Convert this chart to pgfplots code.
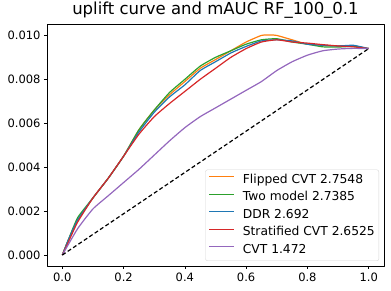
\documentclass[border=0pt]{standalone}
\usepackage{pgfplots}
\pgfplotsset{compat=1.18}
\usepackage{fontspec}
\setmainfont{DejaVu Sans}
\setsansfont{DejaVu Sans}
\definecolor{c0}{HTML}{1F77B4}
\definecolor{c1}{HTML}{FF7F0E}
\definecolor{c2}{HTML}{2CA02C}
\definecolor{c3}{HTML}{D62728}
\definecolor{c4}{HTML}{9467BD}
\definecolor{legframe}{HTML}{D6D6D6}
\begin{document}
\begin{tikzpicture}
\path[use as bounding box] (-47pt,-25pt) rectangle (344pt,266pt);
\begin{axis}[
  at={(0,0)}, anchor=south west,
  scale only axis, width=337pt, height=242pt,
  xmin=-0.05, xmax=1.05, ymin=-0.0005, ymax=0.01052,
  xtick={0,0.2,0.4,0.6,0.8,1.0},
  ytick={0,0.002,0.004,0.006,0.008,0.010},
  scaled y ticks=false,
  xticklabel style={/pgf/number format/.cd, fixed, fixed zerofill, precision=1},
  yticklabel style={/pgf/number format/.cd, fixed, fixed zerofill, precision=3},
  /pgf/number format/assume math mode=true,
  tick label style={font=\fontsize{11.5}{13}\selectfont},
  tick align=outside, tick pos=left,
  major tick length=3pt,
  axis line style={line width=0.7pt},
  every tick/.style={line width=0.7pt, black},
  title={uplift curve and mAUC RF\_100\_0.1},
  title style={font=\fontsize{16.5}{19}\selectfont, yshift=-4pt},
  legend cell align=left,
  legend style={at={(1,0)}, anchor=south east, xshift=-5pt, yshift=5pt,
    font=\fontsize{12.3}{14}\selectfont, draw=legframe, rounded corners=2pt,
    inner xsep=3pt, inner ysep=3.5pt, column sep=7pt, row sep=3.5pt,
    nodes={inner sep=1pt, text height=9pt, text depth=3pt}},
  line join=round,
  every axis plot/.append style={line width=1.2pt},
]
\addplot[c1, smooth, tension=0.3, legend image code/.code={\draw[draw=c1, line width=1.3pt, rounded corners=0pt] (0pt,3.5pt) -- (25pt,3.5pt);}] coordinates {
(0,0) (0.02,0.0007) (0.05,0.0016) (0.1,0.0026) (0.15,0.0035) (0.2,0.0045) (0.25,0.0057) (0.3,0.0066) (0.35,0.0073) (0.4,0.0079) (0.45,0.0085) (0.5,0.0089) (0.55,0.0093) (0.6,0.0097) (0.65,0.0100) (0.68,0.01002) (0.7,0.0100) (0.75,0.0098) (0.8,0.0096) (0.85,0.00955) (0.9,0.00952) (0.95,0.00952) (1.0,0.0094)};
\addlegendentry{Flipped CVT 2.7548}
\addplot[c2, smooth, tension=0.3, legend image code/.code={\draw[draw=c2, line width=1.3pt, rounded corners=0pt] (0pt,3.5pt) -- (25pt,3.5pt);}] coordinates {
(0,0) (0.02,0.0007) (0.05,0.0017) (0.1,0.0026) (0.15,0.0035) (0.2,0.0045) (0.25,0.0057) (0.3,0.0066) (0.35,0.0074) (0.4,0.0080) (0.45,0.0086) (0.5,0.0090) (0.55,0.0093) (0.6,0.0096) (0.65,0.0098) (0.7,0.00985) (0.75,0.0097) (0.8,0.0096) (0.85,0.00948) (0.9,0.00947) (0.95,0.0095) (1.0,0.0094)};
\addlegendentry{Two model 2.7385}
\addplot[c0, smooth, tension=0.3, legend image code/.code={\draw[draw=c0, line width=1.3pt, rounded corners=0pt] (0pt,3.5pt) -- (25pt,3.5pt);}] coordinates {
(0,0) (0.02,0.0007) (0.05,0.0016) (0.1,0.0026) (0.15,0.0035) (0.2,0.0045) (0.25,0.0056) (0.3,0.0065) (0.35,0.0072) (0.4,0.00775) (0.45,0.0084) (0.5,0.0088) (0.55,0.0092) (0.6,0.0095) (0.65,0.00975) (0.7,0.0098) (0.75,0.00975) (0.8,0.0096) (0.85,0.00955) (0.9,0.00952) (0.95,0.00955) (1.0,0.0094)};
\addlegendentry{DDR 2.692}
\addplot[c3, smooth, tension=0.3, legend image code/.code={\draw[draw=c3, line width=1.3pt, rounded corners=0pt] (0pt,3.5pt) -- (25pt,3.5pt);}] coordinates {
(0,0) (0.02,0.0006) (0.05,0.0015) (0.1,0.0026) (0.15,0.0035) (0.2,0.0045) (0.25,0.0055) (0.3,0.0063) (0.35,0.0069) (0.4,0.00745) (0.45,0.0080) (0.5,0.0085) (0.55,0.0090) (0.6,0.0094) (0.65,0.0097) (0.7,0.0098) (0.75,0.0097) (0.8,0.00965) (0.85,0.00958) (0.9,0.00952) (0.95,0.00948) (1.0,0.0094)};
\addlegendentry{Stratified CVT 2.6525}
\addplot[c4, smooth, tension=0.3, legend image code/.code={\draw[draw=c4, line width=1.3pt, rounded corners=0pt] (0pt,3.5pt) -- (25pt,3.5pt);}] coordinates {
(0,0) (0.05,0.0012) (0.1,0.0021) (0.15,0.0027) (0.2,0.0033) (0.25,0.0039) (0.3,0.00455) (0.35,0.0052) (0.4,0.0058) (0.45,0.0063) (0.5,0.0067) (0.55,0.0071) (0.6,0.0075) (0.65,0.0079) (0.7,0.0084) (0.75,0.0088) (0.8,0.0091) (0.85,0.0093) (0.9,0.00938) (0.95,0.00941) (1.0,0.0094)};
\addlegendentry{CVT 1.472}
\addplot[black, dash pattern=on 4pt off 2.5pt, forget plot] coordinates {(0,0) (1,0.0094)};
\end{axis}
\end{tikzpicture}
\end{document}
